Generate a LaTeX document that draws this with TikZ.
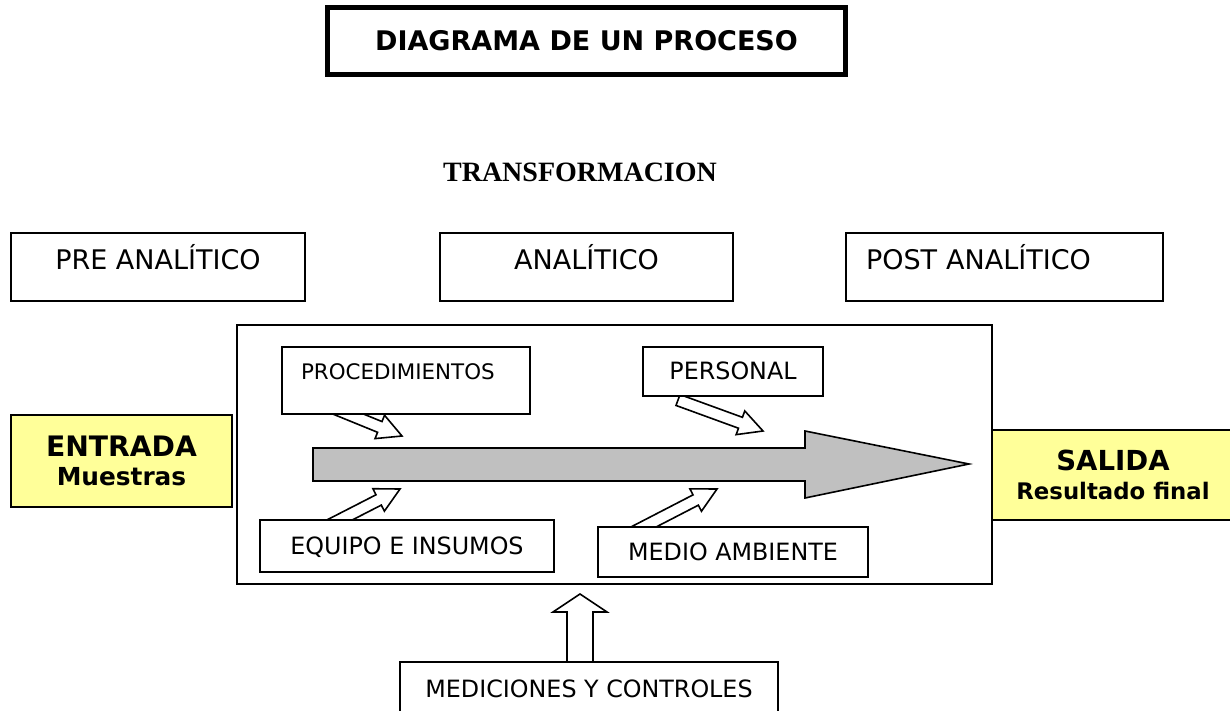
\documentclass[tikz,border=0pt]{standalone}
\usepackage{fontspec}
\setmainfont{DejaVu Sans}
\newfontfamily\headfont{Liberation Serif}
\usetikzlibrary{calc,backgrounds}

\definecolor{notepaper}{HTML}{FFFF99}
\definecolor{flowgray}{HTML}{C0C0C0}

% hollow block arrow: from, to, shaft half width, head half width, head length
\newcommand{\hollowarrow}[5]{%
  \coordinate (hb) at ($(#2)!#5!(#1)$);
  \draw[hollow] ($(#1)!#3!90:(#2)$) -- ($(hb)!#3!90:(#2)$) -- ($(hb)!#4!90:(#2)$)
    -- (#2) -- ($(hb)!#4!-90:(#2)$) -- ($(hb)!#3!-90:(#2)$) -- ($(#1)!#3!-90:(#2)$) -- cycle;}

\tikzset{
  box/.style={draw, fill=white, line width=0.8pt, inner sep=0pt, text height=8pt, text depth=0pt},
  stagebox/.style={box, minimum width=147pt, minimum height=34pt, text depth=5pt, font=\fontsize{13.5}{15}\selectfont},
  factor/.style={box, font=\fontsize{11.9}{13}\selectfont},
  iobox/.style={draw, fill=notepaper, line width=0.8pt, inner sep=0pt, align=center, font=\bfseries\fontsize{12}{14.5}\selectfont},
  hollow/.style={draw, fill=white, line width=0.8pt, line join=miter},
  flow/.style={draw, fill=flowgray, line width=0.8pt, line join=miter}
}

\begin{document}
\begin{tikzpicture}[x=0.5pt, y=-0.5pt]
\useasboundingbox (0,0) rectangle (1230,711);

\node[box, line width=2.5pt, minimum width=259pt, minimum height=33.5pt, text height=9.5pt,
  font=\bfseries\fontsize{13.5}{16}\selectfont] (title) at (586.5,41) {DIAGRAMA DE UN PROCESO};
\node[inner sep=0pt, font=\headfont\bfseries\fontsize{14}{16}\selectfont] (transf) at (580,172) {TRANSFORMACION};

% etapas
\node[stagebox] (pre) at (158,267) {PRE ANALÍTICO};
\node[stagebox, minimum width=146.5pt] (ana) at (586.5,267) {ANALÍTICO};
\node[stagebox, align=left, text width=138.5pt, inner xsep=10pt] (post) at (1004.5,267) {POST ANALÍTICO};

% transformacion
\node[draw, line width=0.8pt, minimum width=377.5pt, minimum height=129.5pt] (core) at (614.5,454.5) {};
\draw[flow] (313,448) -- (805,448) -- (805,431) -- (969,464) -- (805,498) -- (805,481) -- (313,481) -- cycle;

\node[factor, align=left, text width=105pt, inner xsep=9.5pt, minimum height=33.5pt, text depth=9pt,
  font=\fontsize{10.7}{12}\selectfont] (proc) at (406,380.5) {PROCEDIMIENTOS};
\node[factor, minimum width=90pt, minimum height=24.5pt] (pers) at (733,371.5) {PERSONAL};
\node[factor, minimum width=147pt, minimum height=26pt] (equip) at (407,546) {EQUIPO E INSUMOS};
\node[factor, minimum width=135pt, minimum height=25pt] (medio) at (733,552) {MEDIO AMBIENTE};

\node[iobox, minimum width=110.5pt, minimum height=46pt] (entrada) at (121.5,461)
  {{\fontsize{14.1}{14.5}\selectfont ENTRADA}\\{\fontsize{12.4}{14.5}\selectfont Muestras}};
\node[iobox, minimum width=121pt, minimum height=45pt] (salida) at (1113,475)
  {{\fontsize{13.8}{14.5}\selectfont SALIDA}\\{\fontsize{11.4}{14.5}\selectfont Resultado final}};

\node[box, minimum width=189pt, minimum height=39pt, text depth=12pt, font=\fontsize{11.9}{14}\selectfont] (medic) at (589,701) {MEDICIONES Y CONTROLES};

\coordinate (procfoot) at (326,405);  \coordinate (proctip) at (402,436);
\coordinate (persfoot) at (678,400);  \coordinate (perstip) at (763,431);
\coordinate (equipfoot) at (320,530); \coordinate (equiptip) at (400,489);
\coordinate (mediofoot) at (628,535); \coordinate (mediotip) at (717,489);
\coordinate (medicfoot) at (580,672); \coordinate (medictip) at (580,594);

\begin{pgfonlayer}{background}
\hollowarrow{procfoot}{proctip}{2.9pt}{6.3pt}{12pt}
\hollowarrow{persfoot}{perstip}{2.9pt}{6.3pt}{12pt}
\hollowarrow{equipfoot}{equiptip}{2.9pt}{6.3pt}{12pt}
\hollowarrow{mediofoot}{mediotip}{2.9pt}{6.3pt}{12pt}
\hollowarrow{medicfoot}{medictip}{6.5pt}{13.5pt}{9pt}
\end{pgfonlayer}
\end{tikzpicture}
\end{document}
